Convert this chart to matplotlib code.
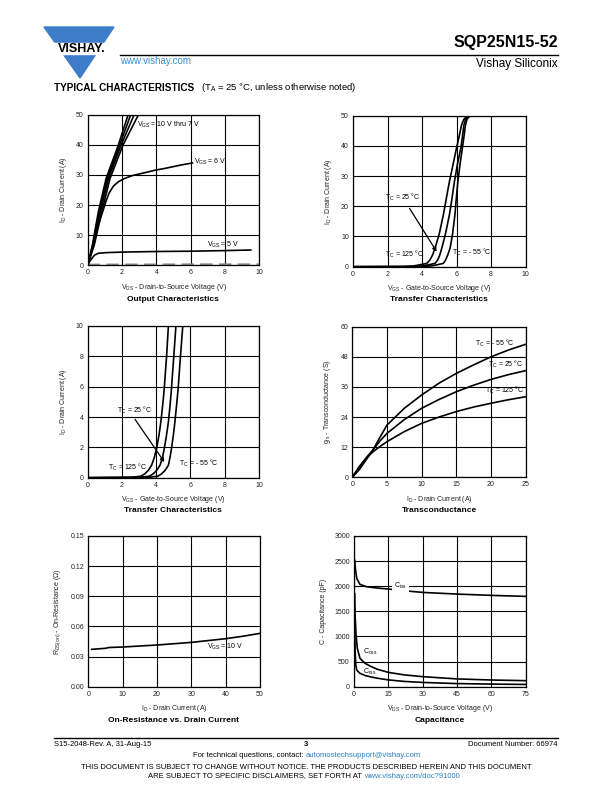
import matplotlib
matplotlib.use("Agg")
import matplotlib.pyplot as plt
from matplotlib.patches import Polygon, Rectangle
from matplotlib.lines import Line2D

plt.rcParams["font.family"] = ["Liberation Sans", "DejaVu Sans"]
plt.rcParams["mathtext.fontset"] = "custom"
plt.rcParams["mathtext.rm"] = "Liberation Sans"

W, H = 612, 792

# --- Output characteristics (VDS, ID) ---
out_10v_x = [0, 0.27, 0.62, 1.07, 1.78, 2.35]
out_9v_x = [0, 0.30, 0.68, 1.14, 1.86, 2.50]
out_8v_x = [0, 0.33, 0.74, 1.21, 1.94, 2.70]
out_7v_x = [0, 0.38, 0.82, 1.30, 2.05, 2.95]
out_bundle_y = [0, 6.6, 17.7, 28.8, 39.9, 50]
out_6v_x = [0, 0.3, 0.6, 0.87, 1.05, 1.25, 1.5, 1.8, 2.17, 2.6, 3.05, 3.5, 3.92, 4.5, 5.0,
            5.5, 6.1]
out_6v_y = [0, 6, 13, 17.7, 21, 24, 26.3, 27.8, 28.9, 29.8, 30.4, 31, 31.6, 32.2, 32.8,
            33.4, 34]
out_5v_x = [0, 0.1, 0.23, 0.4, 0.62, 1, 2, 4, 6, 8, 9.5]
out_5v_y = [0, 1, 2.1, 3.3, 3.9, 4.1, 4.3, 4.5, 4.6, 4.8, 5.0]
out_4v_x = [0, 2, 4, 6, 8, 10]
out_4v_y = [0.1, 0.15, 0.15, 0.2, 0.2, 0.2]

# --- Transfer characteristics 0-50 A (VGS, ID) ---
tr50_y = [0, 0.05, 0.25, 0.6, 1.1, 2.2, 3.8, 6.1, 11, 17.1, 22.5, 28.1, 34, 39.2, 43.2,
          46.8, 48.8, 49.7, 50, 50]
tr50_125_x = [0, 3.0, 3.5, 3.85, 4.27, 4.45, 4.6, 4.75, 5.0, 5.23, 5.4, 5.58, 5.8, 5.99,
              6.15, 6.28, 6.42, 6.58, 6.8, 7.0]
tr50_25_x = [0, 3.5, 4.0, 4.35, 4.75, 4.9, 5.02, 5.14, 5.36, 5.58, 5.73, 5.87, 6.05, 6.24,
             6.34, 6.42, 6.52, 6.65, 6.85, 7.1]
tr50_m55_x = [0, 4.0, 4.5, 4.85, 5.23, 5.36, 5.48, 5.62, 5.77, 5.9, 5.98, 6.07, 6.2, 6.33,
              6.43, 6.51, 6.6, 6.72, 6.9, 7.2]

# --- Transfer characteristics 0-10 A ---
tr10_y = [0, 0.02, 0.1, 0.26, 0.5, 0.82, 1.3, 1.91, 2.8, 3.67, 4.8, 5.87, 7, 8.07, 10]
tr10_125_x = [0, 2.5, 3.1, 3.34, 3.55, 3.73, 3.88, 4.02, 4.16, 4.27, 4.38, 4.47, 4.54,
              4.61, 4.71]
tr10_25_x = [0, 3.0, 3.6, 3.83, 4.04, 4.22, 4.36, 4.47, 4.6, 4.71, 4.81, 4.89, 4.96,
             5.03, 5.15]
tr10_m55_x = [0, 3.5, 4.1, 4.32, 4.53, 4.71, 4.8, 4.89, 5.0, 5.09, 5.19, 5.28, 5.35,
              5.42, 5.55]

# --- Transconductance (ID, gfs) ---
gfs_id = [0, 1, 2, 3, 4, 5, 7.5, 10, 12.5, 15, 17.5, 20, 22.5, 25]
gfs_m55 = [0, 3, 7, 11, 16, 20.8, 27.5, 32.8, 37.5, 41.4, 44.8, 48, 50.7, 53]
gfs_25 = [0, 4, 7.8, 11, 14.5, 17.5, 23, 27.5, 31, 34.1, 36.7, 39, 40.9, 42.5]
gfs_125 = [0, 4.3, 7.5, 10.2, 12.3, 14.2, 18.2, 21.5, 24, 26.2, 28, 29.5, 30.9, 32.1]

# --- On-resistance vs drain current ---
rds_id = [1, 5, 6, 10, 20, 30, 40, 45, 50]
rds_val = [0.0372, 0.0382, 0.0390, 0.0395, 0.0415, 0.0441, 0.0478, 0.0502, 0.0531]

# --- Capacitance (VDS, pF) ---
ciss_v = [0.3, 0.6, 1.2, 2.6, 5.5, 10, 15, 22, 30, 45, 60, 75]
ciss_c = [2520, 2350, 2156, 2037, 1990, 1965, 1944, 1910, 1877, 1844, 1818, 1798]
coss_v = [0.3, 0.5, 0.9, 1.45, 2.6, 4.8, 7, 10, 15, 22, 30, 45, 60, 75]
coss_c = [1850, 1400, 1029, 764, 565, 466, 412, 350, 285, 235, 200, 155, 133, 120]
crss_v = [0.3, 0.5, 0.8, 1.2, 2.6, 5, 7, 10, 15, 22, 30, 45, 60, 75]
crss_c = [1200, 700, 430, 330, 266, 220, 199, 170, 135, 105, 85, 62, 52, 45]


def px(x, y):
    return x / W, 1 - y / H


def make_ax(fig, x0, x1, y0, y1, xticks, yticks, xlab, ylab, yfmt=None):
    ax = fig.add_axes([x0 / W, 1 - y1 / H, (x1 - x0) / W, (y1 - y0) / H])
    ax.set_xlim(xticks[0], xticks[-1])
    ax.set_ylim(yticks[0], yticks[-1])
    ax.set_xticks(xticks)
    ax.set_yticks(yticks)
    if yfmt:
        ax.set_yticklabels([yfmt.format(v) for v in yticks])
    ax.tick_params(length=0, labelsize=5, pad=3, colors="#222222")
    ax.grid(True, color="black", lw=0.8)
    ax.set_axisbelow(True)
    for s in ax.spines.values():
        s.set_linewidth(0.9)
    ax.set_xlabel(xlab, fontsize=5, labelpad=4, color="#222222")
    ax.set_ylabel(ylab, fontsize=5, labelpad=5, color="#222222")
    return ax


def title(x, y, s):
    fig.text(x / W, 1 - y / H, s, fontsize=6, fontweight="bold", ha="center", va="center")


fig = plt.figure(figsize=(W / 100, H / 100), dpi=100)

# header / logo
blue = "#3d7cc9"
fig.patches.append(Polygon([px(44, 27), px(114, 27), px(80, 78)], closed=True,
                           transform=fig.transFigure, color=blue))
fig.patches.append(Rectangle(px(42, 54), 72 / W, 10.5 / H, transform=fig.transFigure,
                             color="white"))
fig.text(*px(82, 49), "VISHAY.", fontsize=9, fontweight="bold", ha="center", va="center")
fig.add_artist(Line2D([119.6 / W, 558 / W], [1 - 54.5 / H] * 2, color="black", lw=1))
fig.text(*px(558, 42), "SQP25N15-52", fontsize=11.5, fontweight="bold", ha="right", va="center")
fig.text(*px(120, 60.5), "www.vishay.com", fontsize=7, color="#3a8fd6", ha="left", va="center")
fig.text(*px(558, 64.5), "Vishay Siliconix", fontsize=8.5, ha="right", va="center")
fig.text(*px(54, 88), "TYPICAL CHARACTERISTICS", fontsize=7.2, fontweight="bold",
         ha="left", va="center")
fig.text(*px(201, 88), r"(T$_\mathrm{A}$ = 25 °C, unless otherwise noted)", fontsize=6.8,
         ha="left", va="center")

lw = 1.2
ilab = r"I$_\mathrm{D}$ - Drain Current (A)"

# chart 1
ax = make_ax(fig, 87.7, 259.3, 115, 265, [0, 2, 4, 6, 8, 10], [0, 10, 20, 30, 40, 50],
             r"V$_\mathrm{DS}$ - Drain-to-Source Voltage (V)", ilab)
for xs in (out_10v_x, out_9v_x, out_8v_x, out_7v_x):
    ax.plot(xs, out_bundle_y, color="black", lw=lw)
ax.plot(out_6v_x, out_6v_y, color="black", lw=lw)
ax.plot(out_5v_x, out_5v_y, color="black", lw=lw)
ax.plot(out_4v_x, out_4v_y, color="#888888", lw=1.5, ls=(0, (6, 3)))
ax.text(2.85, 46.7, r"V$_\mathrm{GS}$ = 10 V thru 7 V", fontsize=5, va="center")
ax.text(6.19, 34.2, r"V$_\mathrm{GS}$ = 6 V", fontsize=5, va="center")
ax.text(6.93, 6.7, r"V$_\mathrm{GS}$ = 5 V", fontsize=5, va="center")
title(173, 299, "Output Characteristics")

# chart 2
ax = make_ax(fig, 353, 525.7, 115.7, 266.7, [0, 2, 4, 6, 8, 10], [0, 10, 20, 30, 40, 50],
             r"V$_\mathrm{GS}$ - Gate-to-Source Voltage (V)", ilab)
for xs in (tr50_125_x, tr50_25_x, tr50_m55_x):
    ax.plot(xs, tr50_y, color="black", lw=lw)
ax.text(1.84, 23, r"T$_\mathrm{C}$ = 25 °C", fontsize=5, va="center")
ax.annotate("", xy=(4.93, 4.2), xytext=(3.19, 20.1),
            arrowprops=dict(arrowstyle="-|>", color="black", lw=0.9, mutation_scale=6))
ax.text(1.84, 4.2, r"T$_\mathrm{C}$ = 125 °C", fontsize=5, va="center")
ax.text(5.76, 4.6, r"T$_\mathrm{C}$ = - 55 °C", fontsize=5, va="center")
title(439, 299, "Transfer Characteristics")

# chart 3
ax = make_ax(fig, 87.7, 259, 326, 477.7, [0, 2, 4, 6, 8, 10], [0, 2, 4, 6, 8, 10],
             r"V$_\mathrm{GS}$ - Gate-to-Source Voltage (V)", ilab)
for xs in (tr10_125_x, tr10_25_x, tr10_m55_x):
    ax.plot(xs, tr10_y, color="black", lw=lw)
ax.text(1.69, 4.46, r"T$_\mathrm{C}$ = 25 °C", fontsize=5, va="center")
ax.annotate("", xy=(4.57, 0.88), xytext=(2.67, 4.0),
            arrowprops=dict(arrowstyle="-|>", color="black", lw=0.9, mutation_scale=6))
ax.text(1.21, 0.66, r"T$_\mathrm{C}$ = 125 °C", fontsize=5, va="center")
ax.text(5.35, 0.95, r"T$_\mathrm{C}$ = - 55 °C", fontsize=5, va="center")
title(173, 510, "Transfer Characteristics")

# chart 4
ax = make_ax(fig, 352.3, 525.7, 326.7, 477.3, [0, 5, 10, 15, 20, 25], [0, 12, 24, 36, 48, 60],
             ilab, r"g$_\mathrm{fs}$ - Transconductance (S)")
for ys in (gfs_m55, gfs_25, gfs_125):
    ax.plot(gfs_id, ys, color="black", lw=lw)
ax.text(17.7, 53.4, r"T$_\mathrm{C}$ = - 55 °C", fontsize=5, va="center")
ax.text(19.6, 44.8, r"T$_\mathrm{C}$ = 25 °C", fontsize=5, va="center")
ax.text(19.1, 34.8, r"T$_\mathrm{C}$ = 125 °C", fontsize=5, va="center")
title(439, 510, "Transconductance")

# chart 5
ax = make_ax(fig, 88.3, 260, 536, 686.7, [0, 10, 20, 30, 40, 50],
             [0, 0.03, 0.06, 0.09, 0.12, 0.15], ilab,
             r"R$_\mathrm{DS(on)}$ - On-Resistance ($\Omega$)", yfmt="{:.2f}")
ax.plot(rds_id, rds_val, color="black", lw=lw)
ax.text(34.5, 0.0392, r"V$_\mathrm{GS}$ = 10 V", fontsize=5, va="center")
title(174, 720, "On-Resistance vs. Drain Current")

# chart 6
ax = make_ax(fig, 354, 525.7, 536, 686.7, [0, 15, 30, 45, 60, 75],
             [0, 500, 1000, 1500, 2000, 2500, 3000],
             r"V$_\mathrm{DS}$ - Drain-to-Source Voltage (V)", "C - Capacitance (pF)")
ax.plot(ciss_v, ciss_c, color="black", lw=lw)
ax.plot(coss_v, coss_c, color="black", lw=lw)
ax.plot(crss_v, crss_c, color="black", lw=lw)
ax.text(17.5, 2010, r"C$_\mathrm{iss}$", fontsize=5, va="center",
        bbox=dict(facecolor="white", edgecolor="none", pad=1.5))
ax.text(3.8, 697, r"C$_\mathrm{oss}$", fontsize=5, va="center")
ax.text(3.8, 300, r"C$_\mathrm{rss}$", fontsize=5, va="center")
title(440, 720, "Capacitance")

# footer
fig.add_artist(Line2D([54 / W, 558 / W], [1 - 738 / H] * 2, color="black", lw=1))
fig.text(*px(54, 744), "S15-2048-Rev. A, 31-Aug-15", fontsize=5.5, ha="left", va="center")
fig.text(*px(306, 744.5), "3", fontsize=5.5, fontweight="bold", ha="center", va="center")
fig.text(*px(558, 744), "Document Number: 66974", fontsize=5.5, ha="right", va="center")
fig.text(*px(306, 755.5), "For technical questions, contact: ", fontsize=5.5,
         ha="right", va="center")
fig.text(*px(306, 755.5), "automostechsupport@vishay.com", fontsize=5.5, ha="left",
         va="center", color="#2a7fc4")
fig.text(*px(306, 767.5), "THIS DOCUMENT IS SUBJECT TO CHANGE WITHOUT NOTICE. THE PRODUCTS "
         "DESCRIBED HEREIN AND THIS DOCUMENT", fontsize=5.5, ha="center", va="center")
fig.text(*px(364, 776), "ARE SUBJECT TO SPECIFIC DISCLAIMERS, SET FORTH AT ", fontsize=5.5,
         ha="right", va="center")
fig.text(*px(364, 776), "www.vishay.com/doc?91000", fontsize=5.5, ha="left", va="center",
         color="#2a7fc4")

fig.savefig("out.png", dpi=100)
